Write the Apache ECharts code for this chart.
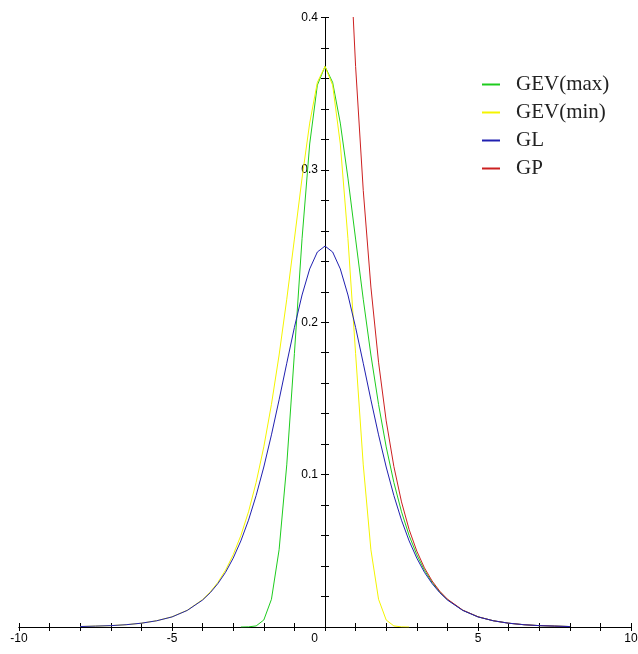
<!DOCTYPE html>
<html>
<head>
<meta charset="utf-8">
<script src="https://cdn.jsdelivr.net/npm/echarts@6/dist/echarts.min.js"></script>
<style>
html,body{margin:0;padding:0;background:#fff;}
#chart{width:638px;height:654px;}
</style>
</head>
<body>
<div id="chart"></div>
<script>
// shared x grid for GEV(max), GEV(min), GL
var xs = [-8,-7.5,-7,-6.5,-6,-5.5,-5,-4.5,-4,-3.75,-3.5,-3.25,-3,-2.75,-2.5,-2.25,-2,-1.75,-1.5,-1.25,-1,-0.75,-0.5,-0.25,0,0.25,0.5,0.75,1,1.25,1.5,1.75,2,2.25,2.5,2.75,3,3.25,3.5,3.75,4,4.5,5,5.5,6,6.5,7,7.5,8];
var gevMax = [null,null,null,null,null,null,null,null,null,null,null,null,null,0.0000,0.0001,0.0007,0.0046,0.0182,0.0507,0.1064,0.1794,0.2549,0.3170,0.3556,0.3679,0.3574,0.3307,0.2946,0.2546,0.2151,0.1785,0.1461,0.1182,0.0949,0.0756,0.0600,0.0474,0.0373,0.0293,0.0230,0.0180,0.0110,0.0067,0.0041,0.0025,0.0015,0.0009,0.0006,0.0003];
var gevMin = [0.0003,0.0006,0.0009,0.0015,0.0025,0.0041,0.0067,0.0110,0.0180,0.0230,0.0293,0.0373,0.0474,0.0600,0.0756,0.0949,0.1182,0.1461,0.1785,0.2151,0.2546,0.2946,0.3307,0.3574,0.3679,0.3556,0.3170,0.2549,0.1794,0.1064,0.0507,0.0182,0.0046,0.0007,0.0001,0.0000,null,null,null,null,null,null,null,null,null,null,null,null,null];
var gl = [0.0003,0.0006,0.0009,0.0015,0.0025,0.0041,0.0066,0.0109,0.0177,0.0225,0.0285,0.0359,0.0452,0.0565,0.0701,0.0863,0.1050,0.1261,0.1491,0.1731,0.1966,0.2179,0.2350,0.2461,0.2500,0.2461,0.2350,0.2179,0.1966,0.1731,0.1491,0.1261,0.1050,0.0863,0.0701,0.0565,0.0452,0.0359,0.0285,0.0225,0.0177,0.0109,0.0066,0.0041,0.0025,0.0015,0.0009,0.0006,0.0003];
// GP has its own x grid
var xsGP = [0.75,1,1.25,1.5,1.75,2,2.25,2.5,2.75,3,3.25,3.5,3.75,4,4.5,5,5.5,6,6.5,7,7.5,8];
var gp = [0.4724,0.3679,0.2865,0.2231,0.1738,0.1353,0.1054,0.0821,0.0639,0.0498,0.0388,0.0302,0.0235,0.0183,0.0111,0.0067,0.0041,0.0025,0.0015,0.0009,0.0006,0.0003];
var seriesNames = ['GEV(max)','GEV(min)','GL','GP'];
var xLabels = [-10,-5,0,5,10];
var yLabels = [0.1,0.2,0.3,0.4];

function pairs(xv, yv){
  var out = [];
  for (var i=0;i<xv.length;i++){ if (yv[i] !== null) out.push([xv[i], yv[i]]); }
  return out;
}

var chart = echarts.init(document.getElementById('chart'), null, {renderer:'canvas'});
var axisFont = {fontFamily:'Liberation Sans, Arial, sans-serif', fontSize:12, color:'#000'};
function xFmt(v){
  var r = Math.round(v);
  if (xLabels.indexOf(r) < 0 || Math.abs(v-r) > 1e-6) return '';
  if (r === 0) return '{z|0}';
  return String(r);
}
function yFmt(v){
  for (var i=0;i<yLabels.length;i++){ if (Math.abs(v-yLabels[i])<1e-6) return yLabels[i].toFixed(1); }
  return '';
}
function baseX(idx){
  return {type:'value', min:-10, max:10, interval:1, position:'bottom', splitLine:{show:false},
    axisLine:{show:true, onZero:true, onZeroAxisIndex:idx, lineStyle:{color:'#000', width:1}}};
}
function baseY(idx){
  return {type:'value', min:0, max:0.4, interval:0.02, position:'left', splitLine:{show:false},
    axisLine:{show:true, onZero:true, onZeroAxisIndex:idx, lineStyle:{color:'#000', width:1}}};
}

var option = {
  animation:false,
  backgroundColor:'#fff',
  grid:{left:19, right:7, top:17.5, bottom:27, containLabel:false, outerBoundsMode:'none'},
  xAxis:[
    Object.assign(baseX(0), {
      axisTick:{show:true, inside:false, length:4, lineStyle:{color:'#000'}},
      axisLabel:Object.assign({show:true, margin:6, formatter:xFmt, showMinLabel:true, showMaxLabel:true,
        rich:{z:{fontFamily:'Liberation Sans, Arial, sans-serif', fontSize:12, color:'#000', padding:[0,21,0,0]}}}, axisFont)
    }),
    Object.assign(baseX(1), {
      axisTick:{show:true, inside:true, length:4, lineStyle:{color:'#000'}},
      axisLabel:{show:false}
    })
  ],
  yAxis:[
    Object.assign(baseY(0), {
      axisTick:{show:true, inside:false, length:4, lineStyle:{color:'#000'}},
      axisLabel:Object.assign({show:true, margin:-299, formatter:yFmt, showMinLabel:false, showMaxLabel:true}, axisFont)
    }),
    Object.assign(baseY(1), {
      axisTick:{show:true, inside:true, length:4, lineStyle:{color:'#000'}},
      axisLabel:{show:false}
    })
  ],
  legend:{
    data:seriesNames, orient:'vertical', left:477, top:69, itemWidth:18, itemHeight:2, itemGap:7,
    icon:'rect',
    textStyle:{fontFamily:'Liberation Serif, Times New Roman, serif', fontSize:21, color:'#222', padding:[0,0,0,11]}
  },
  series:[
    {name:'GEV(max)', type:'line', data:pairs(xs, gevMax), showSymbol:false, symbol:'none', color:'#1ecc1e', lineStyle:{width:1, color:'#1ecc1e'}, xAxisIndex:0, yAxisIndex:0},
    {name:'GEV(min)', type:'line', data:pairs(xs, gevMin), showSymbol:false, symbol:'none', color:'#f4f400', lineStyle:{width:1, color:'#f4f400'}, xAxisIndex:0, yAxisIndex:0},
    {name:'GP', type:'line', data:pairs(xsGP, gp), showSymbol:false, symbol:'none', color:'#cc2020', lineStyle:{width:1, color:'#cc2020'}, clip:true, xAxisIndex:0, yAxisIndex:0},
    {name:'GL', type:'line', data:pairs(xs, gl), showSymbol:false, symbol:'none', color:'#2020b0', lineStyle:{width:1, color:'#2020b0'}, xAxisIndex:0, yAxisIndex:0}
  ]
};
chart.setOption(option);
</script>
</body>
</html>
